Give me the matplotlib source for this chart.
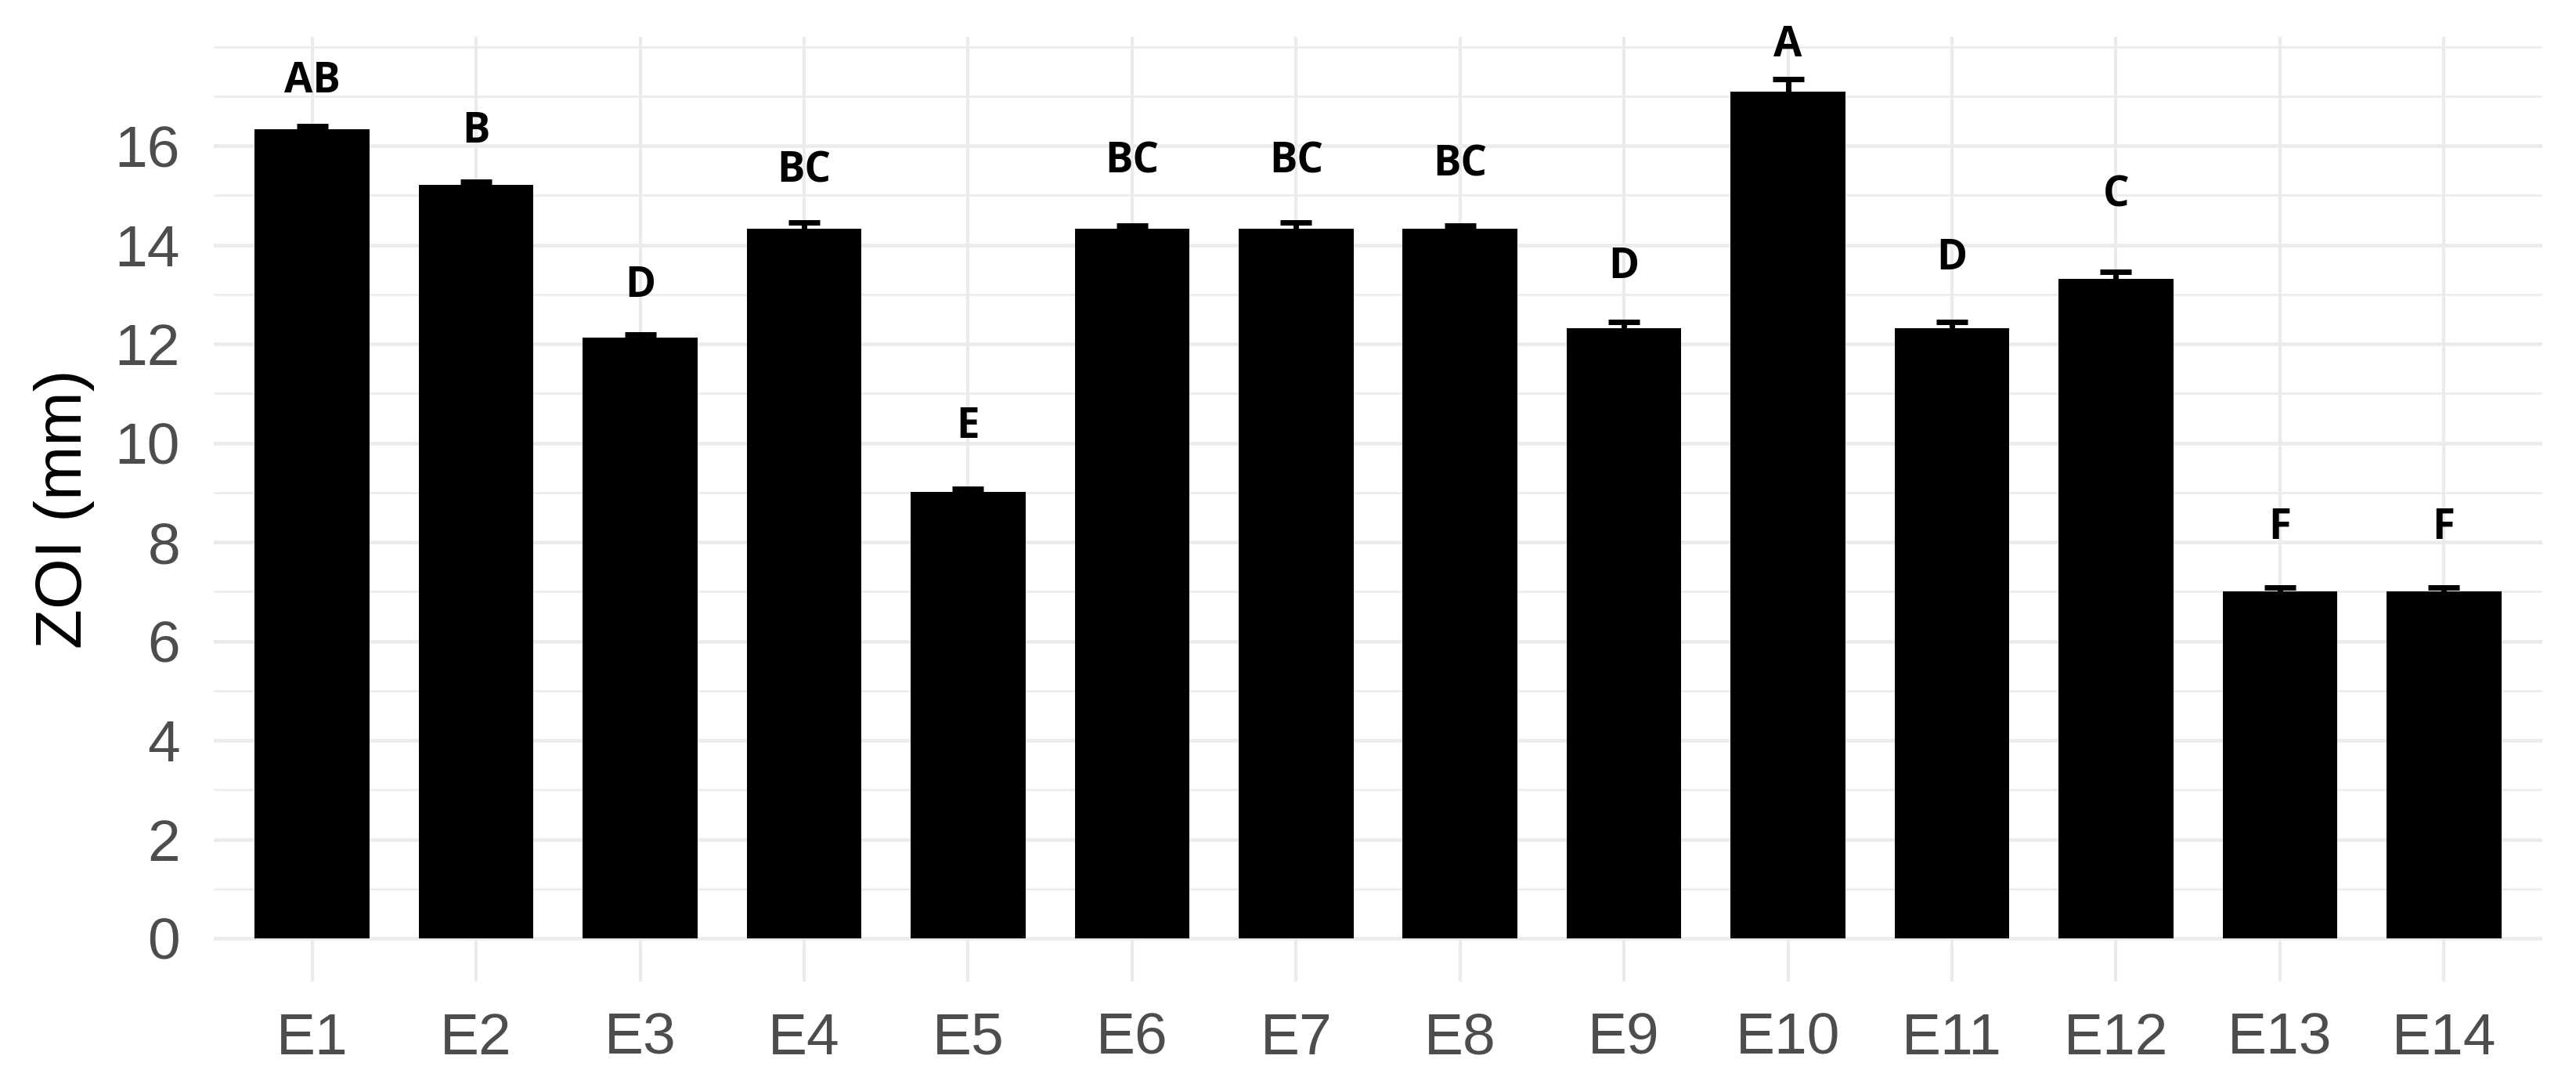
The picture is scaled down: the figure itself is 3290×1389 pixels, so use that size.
import matplotlib
matplotlib.use("Agg")
import matplotlib.pyplot as plt
import numpy as np

groups = ["E1", "E2", "E3", "E4", "E5", "E6", "E7", "E8", "E9", "E10", "E11", "E12", "E13", "E14"]
zoi_mean = [16.33, 15.21, 12.12, 14.33, 9.01, 14.33, 14.33, 14.33, 12.32, 17.10, 12.32, 13.32, 7.00, 7.00]
zoi_sd = [0.06, 0.06, 0.07, 0.12, 0.06, 0.06, 0.12, 0.06, 0.13, 0.24, 0.13, 0.14, 0.08, 0.08]
letters = ["AB", "B", "D", "BC", "E", "BC", "BC", "BC", "D", "A", "D", "C", "F", "F"]
letter_y = [17.07, 16.06, 12.95, 15.27, 10.10, 15.45, 15.45, 15.40, 13.33, 17.81, 13.50, 14.77, 8.07, 8.07]

grid_col = "#EBEBEB"
text_col = "#4D4D4D"

fig = plt.figure(figsize=(32.9, 13.89), dpi=100)
ax = fig.add_axes([0.0830, 0.0979, 0.9039, 0.8683])

x = np.arange(1, len(groups) + 1)

ax.bar(x, zoi_mean, width=0.7, color="black", zorder=3)
ax.errorbar(x, zoi_mean, yerr=zoi_sd, fmt="none", ecolor="black",
            elinewidth=5, capsize=14.7, capthick=5, zorder=4)

for xi, lab, ly in zip(x, letters, letter_y):
    ax.text(xi, ly, lab, ha="center", va="baseline", fontsize=38,
            fontweight="bold", family="Open Sans", color="black", zorder=5)

ax.set_xlim(0.4, 14.6)
ax.set_ylim(-0.87, 18.2)
ax.set_xticks(x)
ax.set_xticklabels(groups)
ax.set_yticks(np.arange(0, 17, 2))
ax.set_yticks(list(np.arange(1, 18, 2)) + [18], minor=True)

ax.grid(True, which="major", axis="y", color=grid_col, linewidth=3.3, zorder=0)
ax.grid(True, which="minor", axis="y", color=grid_col, linewidth=1.8, zorder=0)
ax.grid(True, which="major", axis="x", color=grid_col, linewidth=3.0, zorder=0)
ax.set_axisbelow(True)

for s in ax.spines.values():
    s.set_visible(False)

ax.tick_params(axis="both", which="both", length=0)
ax.tick_params(axis="x", pad=28, labelsize=54, labelcolor=text_col)
ax.tick_params(axis="y", pad=31, labelsize=54, labelcolor=text_col)
for lab in ax.get_xticklabels() + ax.get_yticklabels():
    lab.set_family("Liberation Sans")

ax.set_ylabel("ZOI (mm)", fontsize=60, family="Liberation Sans", color="black", va="center")
ax.yaxis.set_label_coords(-0.0642, 0.5)

fig.savefig("out.png", dpi=100, facecolor="white")
